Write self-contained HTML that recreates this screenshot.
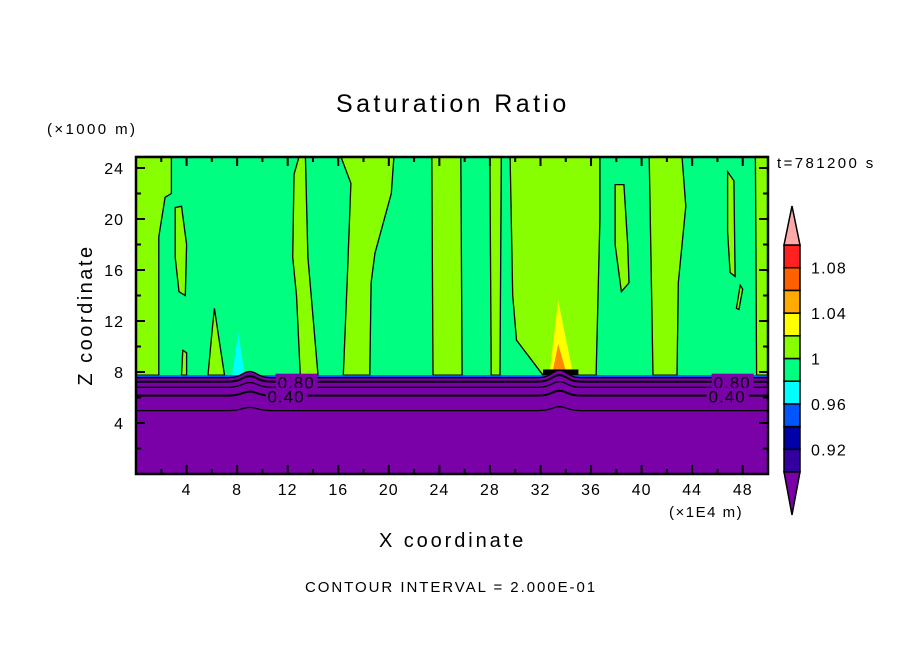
<!DOCTYPE html>
<html><head><meta charset="utf-8"><style>
body{margin:0;background:#fff;}
svg text{font-family:"Liberation Sans",sans-serif;fill:#000;}
</style></head><body>
<svg id="chart" width="904" height="654" viewBox="0 0 904 654" xmlns="http://www.w3.org/2000/svg">
<text x="336" y="112" font-size="25" letter-spacing="3.4">Saturation Ratio</text>
<text x="47" y="134" font-size="15" letter-spacing="2.4">(×1000 m)</text>
<text x="92" y="315" font-size="20" text-anchor="middle" letter-spacing="2.5" transform="rotate(-90 92 315)">Z coordinate</text>
<text x="379" y="547" font-size="20" letter-spacing="2.9">X coordinate</text>
<text x="669" y="517" font-size="15" letter-spacing="1.5">(×1E4 m)</text>
<text x="777" y="168" font-size="15" letter-spacing="2.4">t=781200 s</text>
<text x="305" y="592" font-size="15" letter-spacing="1.95">CONTOUR INTERVAL = 2.000E-01</text>
<g id="plot"></g>
<g id="cbar"></g>
</svg>
<script>
// ---- data (x in 1E4 m, z in 1000 m) ----
const xTicks=[4,8,12,16,20,24,28,32,36,40,44,48];
const zTicks=[4,8,12,16,20,24];
const cloudBase=7.75;
const contourLevels=[7.55,7.24,6.8,6.15,4.97];
const regionLeft=[[0,24.9],[2.8,24.9],[2.8,22],[2.3,21.7],[1.8,18.6],[1.8,7.75],[0,7.75]];
const regionB=[[3.1,20.9],[3.6,21],[4.0,18],[3.9,14],[3.4,14.3],[3.1,17]];
const regionC=[[5.7,7.75],[6.0,11],[6.2,13],[6.5,11],[7.0,7.75]];
const regionD=[[3.6,7.75],[3.7,9.7],[4.0,9.5],[4.0,7.75]];
const regionE=[[12.5,23.5],[12.9,24.9],[13.4,24.9],[13.6,17],[14.4,7.75],[13.0,7.75],[12.7,14],[12.4,17]];
const regionF=[[16.2,24.9],[20.4,24.9],[20.2,22],[18.9,17.3],[18.6,15],[18.5,7.75],[16.4,7.75],[16.7,15],[17.0,22.8]];
const regionG=[[23.4,24.9],[25.7,24.9],[25.8,7.75],[23.5,7.75]];
const regionH=[[28.0,24.9],[28.9,24.9],[28.8,7.75],[28.1,7.75]];
const regionI=[[29.6,24.9],[36.7,24.9],[36.7,20],[36.4,7.75],[32.2,7.75],[30.1,10.5],[29.8,14]];
const regionJ=[[37.9,22.7],[38.6,22.7],[38.9,18],[39.0,15],[38.4,14.3],[37.9,18]];
const regionK=[[40.6,24.9],[43.2,24.9],[43.5,21],[42.9,15],[42.8,7.75],[40.9,7.75]];
const regionL=[[46.8,23.7],[47.3,23],[47.4,15.5],[47.0,15.8],[46.8,19]];
const regionM=[[47.5,13],[47.8,14.8],[48.0,14.5],[47.7,12.9]];
const regionN=[[49.0,24.9],[50,24.9],[50,7.75],[49.1,7.75]];
const regions=[regionLeft,regionB,regionC,regionD,regionE,regionF,regionG,regionH,regionI,regionJ,regionK,regionL,regionM,regionN];
const cyanSpike=[[7.6,7.75],[8.1,11.1],[8.6,7.75]];
const yellowSpike=[[32.7,7.75],[33.4,13.6],[34.6,7.75]];
const orangeSpike=[[32.9,7.75],[33.4,10.2],[34.1,7.75]];
const bumps=[[9.0,0.5],[33.5,0.6]];
const cbLevels=[0.90,0.92,0.94,0.96,0.98,1.00,1.02,1.04,1.06,1.08,1.10];
const cbColors=["#3300a0","#0000a8","#0055ff","#00ffff","#00ff80","#88ff00","#ffff00","#ffaa00","#ff6000","#ff2020"];
const cbLabels=[0.92,0.96,1.00,1.04,1.08];
const cbLabelText=["0.92","0.96","1","1.04","1.08"];
// ---- axes ----
const L=136,R=768,T=157,B=474;
const X=x=>L+x*(R-L)/50;
const Z=z=>B-z*12.75;
const NS="http://www.w3.org/2000/svg";
const plot=document.getElementById('plot');
function mk(tag,attrs,parent){const e=document.createElementNS(NS,tag);for(const k in attrs)e.setAttribute(k,attrs[k]);(parent||plot).appendChild(e);return e;}
function pts(a){return a.map(p=>X(p[0]).toFixed(1)+","+Z(p[1]).toFixed(1)).join(" ");}
let e;
e=mk('rect',{x:L,y:T,width:R-L,height:B-T,fill:'#00ff80'});


regions.forEach(r=>{const p=mk('polygon',{points:pts(r),fill:'#88ff00',stroke:'#000','stroke-width':1.3});

});
e=mk('polygon',{points:pts(cyanSpike),fill:'#00ffff'});


e=mk('polygon',{points:pts(yellowSpike),fill:'#ffff00'});


e=mk('polygon',{points:pts(orangeSpike),fill:'#ff8800'});


e=mk('rect',{x:X(32.2),y:Z(8.2),width:X(35)-X(32.2),height:Z(7.7)-Z(8.2),fill:'#000'});


function bumpAt(x){let b=0;bumps.forEach(p=>{b+=p[1]*Math.exp(-Math.pow((x-p[0])/0.8,2));});return b;}
function layerPath(z,scale){let d="";for(let x=0;x<=50.001;x+=0.25){d+=(x===0?"M":"L")+X(x).toFixed(1)+","+Z(z+bumpAt(x)*scale).toFixed(1);}return d;}
e=mk('rect',{x:L,y:Z(cloudBase),width:R-L,height:B-Z(cloudBase),fill:'#0055ff'});


e=mk('path',{d:layerPath(cloudBase-0.2,1)+"L"+R+","+B+"L"+L+","+B+"Z",fill:'#7a00a8'});


contourLevels.forEach((z,i)=>{const p=mk('path',{d:layerPath(z,1-i*0.12),fill:'none',stroke:'#000','stroke-width':i===1||i===3?2:1.3});

});
function clabel(x,z,t){mk('rect',{x:X(x)-2,y:Z(z)-8,width:42,height:15,fill:'#7a00a8'});
const tx=mk('text',{x:X(x),y:Z(z)+7,'font-size':17,'letter-spacing':1});tx.textContent=t;

}
clabel(11.2,7.24,"0.80");clabel(10.4,6.15,"0.40");clabel(45.7,7.24,"0.80");clabel(45.3,6.15,"0.40");
e=mk('rect',{x:L,y:T,width:R-L,height:B-T,fill:'none',stroke:'#000','stroke-width':2.5});


for(let x=2;x<50;x+=2){const maj=x%4===0,len=maj?9:5;
mk('line',{x1:X(x),x2:X(x),y1:B,y2:B-len,stroke:'#000','stroke-width':2});
mk('line',{x1:X(x),x2:X(x),y1:T,y2:T+len,stroke:'#000','stroke-width':2});}
for(let z=2;z<25;z+=2){const maj=z%4===0,len=maj?9:5;
mk('line',{x1:L,x2:L+len,y1:Z(z),y2:Z(z),stroke:'#000','stroke-width':2});
mk('line',{x1:R,x2:R-len,y1:Z(z),y2:Z(z),stroke:'#000','stroke-width':2});}
xTicks.forEach(v=>{const t=mk('text',{x:X(v),y:B+21,'font-size':16,'text-anchor':'middle','letter-spacing':1});t.textContent=v;

});
zTicks.forEach(v=>{const t=mk('text',{x:L-12,y:Z(v)+6,'font-size':16,'text-anchor':'end','letter-spacing':1});t.textContent=v;

});
const cb=document.getElementById('cbar');
const cx=784,cw=16,C=v=>472-(v-0.90)/0.02*22.7;
cbColors.forEach((c,i)=>{const r=mk('rect',{x:cx,y:C(cbLevels[i+1]),width:cw,height:C(cbLevels[i])-C(cbLevels[i+1]),fill:c,stroke:'#000','stroke-width':1.5},cb);

});
e=mk('polygon',{points:`${cx},${C(1.10)} ${cx+cw},${C(1.10)} ${cx+cw/2},206`,fill:'#ffaaaa',stroke:'#000','stroke-width':1.5},cb);


e=mk('polygon',{points:`${cx},${C(0.90)} ${cx+cw},${C(0.90)} ${cx+cw/2},515`,fill:'#7a00a8',stroke:'#000','stroke-width':1.5},cb);


cbLabels.forEach((v,i)=>{const t=mk('text',{x:811,y:C(v)+6,'font-size':16,'letter-spacing':1.2},cb);t.textContent=cbLabelText[i];

});
</script>
</body></html>
